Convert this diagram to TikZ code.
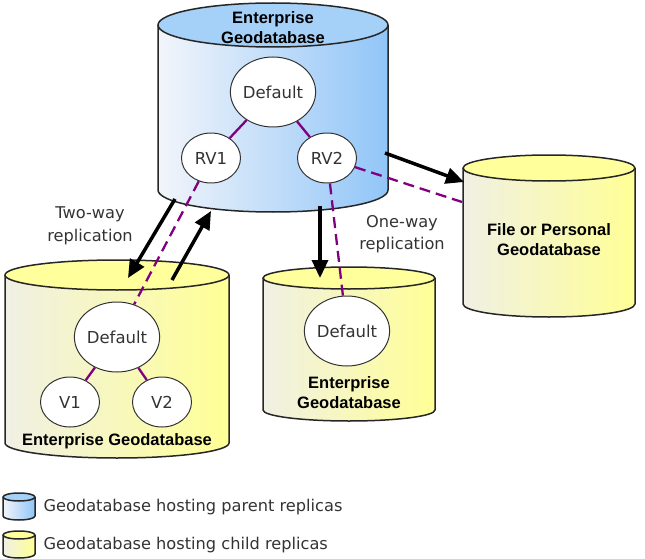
\documentclass[tikz,border=0pt]{standalone}
\usepackage{fontspec}
\setmainfont{DejaVu Sans}
\newfontfamily\lblfont{Liberation Sans}
\usetikzlibrary{arrows.meta,shapes.geometric}
\definecolor{rpurple}{RGB}{128,0,128}
\definecolor{pleft}{RGB}{242,245,250}
\definecolor{pright}{RGB}{145,197,248}
\definecolor{ptop}{RGB}{165,208,248}
\definecolor{cleft}{RGB}{240,240,228}
\definecolor{cright}{RGB}{255,255,150}
\definecolor{ctop}{RGB}{255,255,155}
\newcommand\dbcyl[6]{%
  \fill[left color=#6left,right color=#6right] ({#1-#4},#2) -- ({#1-#4},#3) arc[start angle=180,end angle=0,x radius=#4,y radius=#5] -- ({#1+#4},#2) arc[start angle=0,end angle=180,x radius=#4,y radius=#5] -- cycle;
  \filldraw[cylout,fill=#6top] (#1,#2) ellipse[x radius=#4,y radius=#5];
  \draw[cylout] ({#1-#4},#2) -- ({#1-#4},#3) arc[start angle=180,end angle=0,x radius=#4,y radius=#5] -- ({#1+#4},#2);
}
\begin{document}
\begin{tikzpicture}[x=1pt,y=-1pt,>={Triangle[length=18pt,width=16pt]},line join=round,
  cylout/.style={draw=black!85,line width=1.5pt},
  ver/.style={ellipse,draw=black!80,fill=white,line width=1pt,text=black!80,inner sep=0pt,font=\fontsize{16.5}{18}\selectfont},
  big/.style={ver,minimum width=78pt,minimum height=70pt},
  small/.style={ver,minimum width=59pt,minimum height=50pt},
  link/.style={rpurple,line width=2.3pt},
  rep/.style={link,dash pattern=on 11pt off 6pt},
  flow/.style={->,line width=3.5pt},
  lab/.style={font=\lblfont\bfseries\fontsize{16.5}{20}\selectfont,align=center},
  note/.style={font=\fontsize{16.2}{22.5}\selectfont,text=black!80,align=center}]
\useasboundingbox (0,0) rectangle (645,559);
\dbcyl{273}{25}{190}{115}{22}{p}
\dbcyl{117}{275}{443}{112}{15}{c}
\dbcyl{349}{278}{410}{86}{11}{c}
\dbcyl{549}{168}{304}{86}{13}{c}
\dbcyl{19}{497}{516}{16}{4}{p}
\dbcyl{19}{535}{554}{16}{4}{c}
\path (175,199) coordinate (a1s) (128,278) coordinate (a1e) (172,280) coordinate (a2s) (211,211) coordinate (a2e)
  (320,206) coordinate (a3s) (320,278) coordinate (a3e) (385,153) coordinate (a4s) (464,182) coordinate (a4e)
  (462,202) coordinate (pend);
\node[big] (pdef) at (273,92) {Default};
\node[small] (rv1) at (211,158) {RV1};
\node[small] (rv2) at (327,158) {RV2};
\node[big] (cdef) at (117,337) {Default};
\node[small] (cv1) at (70,402) {V1};
\node[small] (cv2) at (162,402) {V2};
\node[big] (mdef) at (347,331) {Default};
\foreach \a/\b in {pdef/rv1,pdef/rv2,cdef/cv1,cdef/cv2}
  \draw[link] (\a) -- (\b);
\draw[rep] (rv1) -- (cdef);
\draw[rep] (rv2) -- (mdef);
\draw[rep] (rv2) -- (pend);
\foreach \s/\e in {a1s/a1e,a2s/a2e,a3s/a3e,a4s/a4e}
  \draw[flow] (\s) -- (\e);
\node[lab] (ptitle) at (273,28) {Enterprise\\Geodatabase};
\node[lab] (ctitle) at (117,441) {Enterprise Geodatabase};
\node[lab] (mtitle) at (349,393) {Enterprise\\Geodatabase};
\node[lab] (ftitle) at (549,240) {File or Personal\\Geodatabase};
\node[note] (two) at (90,226) {Two-way\\replication};
\node[note] (one) at (402,234) {One-way\\replication};
\node[note,anchor=west] (leg1) at (40,507) {Geodatabase hosting parent replicas};
\node[note,anchor=west] (leg2) at (40,545) {Geodatabase hosting child replicas};
\end{tikzpicture}
\end{document}
